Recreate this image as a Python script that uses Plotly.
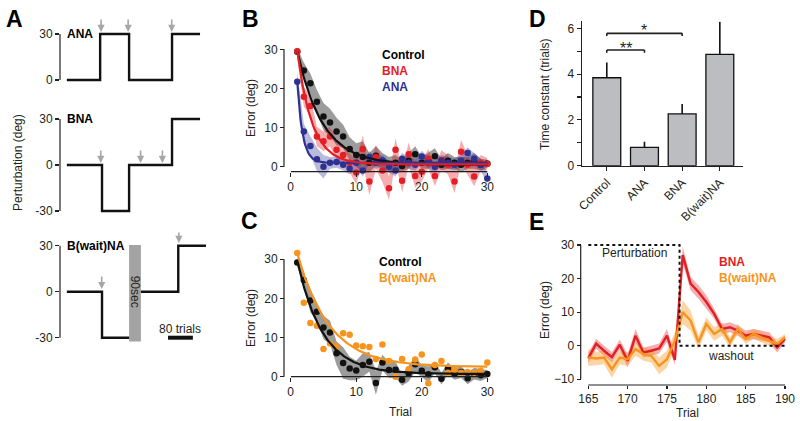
import numpy as np
import plotly.graph_objects as go

W, H = 800, 421
FONT = "Liberation Sans, Arial, sans-serif"
TXT = "#231f20"
RED = "#e31e24"
BLUE = "#2e3192"
ORANGE = "#f7941d"
BLACK = "#111111"
GRAYBAND = "rgba(95,95,95,0.62)"
REDBAND = "rgba(227,30,36,0.36)"
BLUEBAND = "rgba(46,49,146,0.33)"
ORANGEBAND = "rgba(247,148,29,0.40)"

# ---------------- Panel A: perturbation schedules (trials, deg) ----------------
ana_x = [0, 107, 200, 338, 428]
ana_y = [0, 30, 0, 30, 30]
bna_x = [0, 113, 200, 338, 428]
bna_y = [0, -30, 0, 30, 30]
bw_x1 = [0, 113, 200]
bw_y1 = [0, -30, -30]
bw_x2 = [238, 358, 447]
bw_y2 = [0, 30, 30]
wait_x = [200, 238]
wait_y = [-32.5, 30.5]
ana_arrows = [110, 197, 337]
bna_arrows = [109, 237, 307]
bw_arrow_x = [112, 360]
bw_arrow_y = [1.7, 31.8]
scale_x = [325, 405]

# ---------------- Panel B / C: error vs trial ----------------
trials = list(range(1, 31))
b_ctrl = [29.4, 24.6, 21.3, 16.6, 12.8, 11.3, 9.0, 7.7, 4.5, 3.0, 2.5, 1.0, 2.8, 1.5, 0.5,
          1.0, 0.2, 1.5, 3.2, 1.0, 1.5, 2.7, 0.5, 1.5, 1.0, 0.5, 1.0, 1.5, 0.5, 0.8]
b_ctrl_se = [1, 2, 2.5, 3, 3.5, 3.5, 3.5, 3, 3, 3, 4, 2.5, 2.5, 2, 2,
             2, 1.5, 2, 2, 1.5, 2, 2, 1.5, 2, 1.5, 2, 1.5, 2, 1.5, 1]
b_bna = [29.5, 17.9, 15.5, 7.7, 6.5, 7.7, 4.3, 3.0, 1.0, -1.5, 4.5, -3.8, 2.5, -1.0, -5.5,
         4.3, -3.6, 3.2, -2.4, -1.3, 2.0, -2.4, 1.7, 0.5, -3.8, 3.8, 0.5, -2.5, 1.0, 0.7]
b_bna_se = [1.5, 2.5, 2.5, 2.5, 2.5, 2.5, 2.5, 2.5, 2.5, 3, 3.5, 3.5, 3, 3, 3,
            3, 3, 3, 3, 2.5, 2.5, 2.5, 2.5, 2.5, 3, 3, 2.5, 2.5, 2, 1.5]
b_ana = [21.7, 9.0, 5.3, 1.9, 0.0, 1.0, 1.2, 0.5, -0.5, 1.0, -1.0, 2.5, 1.0, 1.5, 0.0,
         -1.0, 2.0, 1.0, 0.5, 2.6, 1.0, 0.0, 1.5, 1.0, 0.5, 1.5, 3.5, 2.0, 0.5, -3.0]
b_ana_se = [2.5, 2, 2.5, 3, 3, 1.5, 1.5, 1.5, 1.5, 1.5, 1.5, 1.5, 1.5, 1.5, 1.5,
            1.5, 1.5, 1.5, 1.5, 1.5, 1.5, 1.5, 1.5, 1.5, 1.5, 1.5, 1.5, 1.5, 1.5, 1.5]
c_ctrl = [29.2, 24.7, 19.5, 16.6, 12.6, 11.3, 6.0, 3.5, 2.1, 1.6, 3.0, 3.8, -1.6, 3.6, 1.7,
          1.8, -0.8, 0.8, 3.2, 1.5, 0.6, 2.4, -0.5, 2.1, 0.7, 1.2, -0.4, 0.8, 0.4, 0.7]
c_ctrl_se = [1, 2, 3, 2.5, 3, 3, 3, 4, 3, 2.5, 3, 2.5, 3, 2, 2,
             2, 1.5, 2, 2, 1.5, 2, 1.5, 1.5, 1.5, 1.5, 1.5, 1.5, 1.5, 1.5, 1]
c_bwait = [31.6, 18.9, 13.7, 13.0, 7.1, 8.5, 7.7, 11.1, 10.7, 8.0, 7.8, 7.6, 4.5, 8.2, 4.0,
           0.0, 4.5, 1.9, 4.4, 5.7, -1.7, 3.0, 4.0, 1.0, 1.7, 1.0, 1.2, 1.0, 1.5, 3.6]

# ---------------- Panel D: time constants ----------------
groups = ["Control", "ANA", "BNA", "B(wait)NA"]
tau = [3.84, 0.80, 2.26, 4.86]
tau_err = [0.67, 0.25, 0.43, 1.43]
# exponential-fit amplitude / offset for each group (tau from panel D)
fit_amp = [29.0, 20.7, 29.0, 29.0]
fit_off = [0.5, 1.0, 0.6, 2.5]

# ---------------- Panel E: transition trials ----------------
e_trials = list(range(165, 191))
e_bna = [-3.7, 0.6, -1.5, -3.4, 0.3, -4.5, 3.0, -2.0, -1.5, -0.8, 3.0, -4.2, 27.0,
         18.5, 16.0, 13.0, 9.5, 5.0, 5.5, 4.5, 3.0, 3.5, 3.0, 2.5, -0.5, 2.0]
e_bna_se = [1.5, 1.5, 1.5, 1.5, 1.5, 2, 2, 1.5, 1.5, 1.5, 2, 1.5, 2.5,
            2, 2, 2, 1.5, 1.5, 1.5, 1.5, 1.5, 1.5, 1.5, 1.5, 1.5, 1]
e_bwait = [-3.5, -3.8, -3.5, -7.0, -3.5, -4.0, -1.0, -2.5, -3.0, -6.0, -4.0, 1.5, 10.0,
           7.5, 1.0, 6.5, 3.5, 5.0, 1.0, 5.0, 2.0, 3.5, 2.5, 1.5, 0.5, 2.5]
e_bwait_se = [2.5, 2, 2, 2.5, 2, 2, 2, 2, 2, 2.5, 2.5, 2.5, 3.5,
              3, 2, 2, 2, 2, 1.5, 1.5, 1.5, 1.5, 1.5, 1.5, 1.5, 1]
pert_x = [165, 176.6, 176.6, 190]
pert_y = [30, 30, 0, 0]


def X(p):
    return p / W


def Y(p):
    return 1 - p / H


def dom(v_a, p_a, v_b, p_b, r0, r1, vertical):
    k = (p_b - p_a) / (v_b - v_a)
    q0 = p_a + (r0 - v_a) * k
    q1 = p_a + (r1 - v_a) * k
    if vertical:
        return sorted([Y(q0), Y(q1)])
    return sorted([X(q0), X(q1)])


fig = go.Figure()


def band(xa, ya, xs, ys, se, color):
    up = [v + s for v, s in zip(ys, se)]
    lo = [v - s for v, s in zip(ys, se)]
    fig.add_trace(go.Scatter(x=list(xs) + list(xs)[::-1], y=up + lo[::-1], fill="toself",
                             fillcolor=color, line=dict(width=0), mode="lines",
                             hoverinfo="skip", xaxis=xa, yaxis=ya))


def pts(xa, ya, xs, ys, color):
    fig.add_trace(go.Scatter(x=xs, y=ys, mode="markers", marker=dict(size=6.5, color=color),
                             cliponaxis=False, xaxis=xa, yaxis=ya))


def fit(xa, ya, i, color, off=None):
    t = np.linspace(1, 30, 240)
    o = fit_off[i] if off is None else off
    yv = fit_amp[i] * np.exp(-(t - 1) / tau[i]) + o
    fig.add_trace(go.Scatter(x=t, y=yv, mode="lines", line=dict(color=color, width=2.2),
                             xaxis=xa, yaxis=ya))


# ---- Panel A traces ----
fig.add_trace(go.Scatter(x=ana_x, y=ana_y, mode="lines", line=dict(color=BLACK, width=2.4, shape="hv"),
                         xaxis="x", yaxis="y"))
fig.add_trace(go.Scatter(x=bna_x, y=bna_y, mode="lines", line=dict(color=BLACK, width=2.4, shape="hv"),
                         xaxis="x2", yaxis="y2"))
fig.add_trace(go.Scatter(x=bw_x1, y=bw_y1, mode="lines", line=dict(color=BLACK, width=2.4, shape="hv"),
                         xaxis="x3", yaxis="y3"))
fig.add_trace(go.Scatter(x=bw_x2, y=bw_y2, mode="lines", line=dict(color=BLACK, width=2.4, shape="hv"),
                         xaxis="x3", yaxis="y3"))
fig.add_trace(go.Scatter(x=scale_x, y=[-30, -30], mode="lines", line=dict(color=BLACK, width=4),
                         xaxis="x3", yaxis="y3"))

# ---- Panel B traces ----
band("x4", "y4", trials, b_ctrl, b_ctrl_se, GRAYBAND)
band("x4", "y4", trials, b_bna, b_bna_se, REDBAND)
band("x4", "y4", trials, b_ana, b_ana_se, BLUEBAND)
pts("x4", "y4", trials, b_ctrl, BLACK)
pts("x4", "y4", trials, b_bna, RED)
pts("x4", "y4", trials, b_ana, BLUE)
fit("x4", "y4", 0, BLACK)
fit("x4", "y4", 1, BLUE)
fit("x4", "y4", 2, RED)

# ---- Panel C traces ----
band("x5", "y5", trials, c_ctrl, c_ctrl_se, GRAYBAND)
pts("x5", "y5", trials, c_ctrl, BLACK)
pts("x5", "y5", trials, c_bwait, ORANGE)
fit("x5", "y5", 0, BLACK, off=0.7)
fit("x5", "y5", 3, ORANGE)

# ---- Panel D traces ----
fig.add_trace(go.Bar(x=groups, y=tau, width=0.74,
                     marker=dict(color="#bcbdc0", line=dict(color=BLACK, width=1.3)),
                     error_y=dict(type="data", symmetric=False, array=tau_err, arrayminus=[0] * 4,
                                  color=BLACK, thickness=1.6, width=0),
                     xaxis="x6", yaxis="y6"))

# ---- Panel E traces ----
band("x7", "y7", e_trials, e_bna, e_bna_se, REDBAND)
band("x7", "y7", e_trials, e_bwait, e_bwait_se, ORANGEBAND)
fig.add_trace(go.Scatter(x=e_trials, y=e_bna, mode="lines", line=dict(color=RED, width=2.4),
                         xaxis="x7", yaxis="y7"))
fig.add_trace(go.Scatter(x=e_trials, y=e_bwait, mode="lines", line=dict(color=ORANGE, width=2.4),
                         xaxis="x7", yaxis="y7"))
fig.add_trace(go.Scatter(x=pert_x, y=pert_y, mode="lines", line=dict(color=BLACK, width=2, dash="dot"),
                         xaxis="x7", yaxis="y7"))

# ---------------- axes ----------------
tickfont = dict(family=FONT, size=12, color=TXT)
base = dict(showgrid=False, zeroline=False, showline=False, ticks="outside", ticklen=4,
            tickwidth=1.1, tickcolor=TXT, tickfont=tickfont, automargin=False, fixedrange=True)

xA = dom(0, 66.85, 100, 66.85 + 31.12, -22, 460, False)
lay = {}
for i, (ax, p30, p0) in enumerate([("", 34, 80), ("2", 119, 165), ("3", 245.7, 291.7)]):
    lay["xaxis" + ax] = dict(domain=xA, range=[-22, 460], visible=False, fixedrange=True)
    tv = [0, 30] if i == 0 else [-30, 0, 30]
    tt = ["0", "30"] if i == 0 else ["-30", "0", "30"]
    lay["yaxis" + ax] = dict(base, domain=dom(0, p0, 30, p30, -6 if i == 0 else -36, 36, True),
                             range=[-6 if i == 0 else -36, 36], anchor="x" + ax,
                             tickmode="array", tickvals=tv, ticktext=tt)

# B
lay["xaxis4"] = dict(base, domain=dom(0, 290.7, 30, 487.3, 0, 31, False), range=[0, 31],
                     anchor="free", position=Y(171.7), tickmode="array", tickvals=[0, 10, 20, 30])
lay["yaxis4"] = dict(base, domain=dom(0, 166.7, 30, 49.3, -9, 33, True), range=[-9, 33],
                     anchor="free", position=X(284), tickmode="array", tickvals=[0, 10, 20, 30])
# C
lay["xaxis5"] = dict(base, domain=dom(0, 290.7, 30, 487.3, 0, 31, False), range=[0, 31],
                     anchor="free", position=Y(376.7), tickmode="array", tickvals=[0, 10, 20, 30])
lay["yaxis5"] = dict(base, domain=dom(0, 376.7, 30, 259.3, -6, 34, True), range=[-6, 34],
                     anchor="free", position=X(284), tickmode="array", tickvals=[0, 10, 20, 30])
# D
lay["xaxis6"] = dict(base, domain=[X(581.7), X(743)], range=[-0.666, 3.615], anchor="y6",
                     showline=True, linecolor=TXT, linewidth=1.2, tickangle=-45,
                     categoryorder="array", categoryarray=groups)
lay["yaxis6"] = dict(base, domain=[Y(165.7), Y(165.7 - 6.3 * 22.9)], range=[0, 6.3], anchor="x6",
                     showline=True, linecolor=TXT, linewidth=1.2, tickmode="linear", tick0=0, dtick=2,
                     minor=dict(dtick=1, ticks="outside", ticklen=4, tickcolor=TXT, tickwidth=1.1))
# E
E_XAX = 385.0
lay["xaxis7"] = dict(base, domain=dom(165, 588.3, 190, 785, 164.5, 190.5, False), range=[164.5, 190.5],
                     anchor="free", position=Y(E_XAX), tickmode="array", ticklen=3,
                     tickvals=[165, 170, 175, 180, 185, 190])
lay["yaxis7"] = dict(base, domain=dom(-10, 379.3, 30, 245, -12, 32, True), range=[-12, 32],
                     anchor="free", position=X(580.7), tickmode="array", tickvals=[-10, 0, 10, 20, 30])

# ---------------- shapes ----------------
LW = 1.2
shapes = []
for ax, lo in [("y", 0), ("y2", -30), ("y3", -30)]:
    shapes.append(dict(type="line", xref="paper", yref=ax, x0=X(60), x1=X(60), y0=lo, y1=30,
                       line=dict(color=TXT, width=LW)))
shapes.append(dict(type="rect", xref="x3", yref="y3", x0=wait_x[0], x1=wait_x[1], y0=wait_y[0], y1=wait_y[1],
                   fillcolor="#a3a3a3", line=dict(width=0), layer="below"))
for xa, ya, xpos, ypos, xr, yr in [("x4", "y4", 284, 171.7, (0, 30), (0, 30)),
                                   ("x5", "y5", 284, 376.7, (0, 30), (0, 30)),
                                   ("x7", "y7", 580.7, E_XAX, (165, 190), (-10, 30))]:
    shapes.append(dict(type="line", xref="paper", yref=ya, x0=X(xpos), x1=X(xpos), y0=yr[0], y1=yr[1],
                       line=dict(color=TXT, width=LW)))
    shapes.append(dict(type="line", xref=xa, yref="paper", x0=xr[0], x1=xr[1], y0=Y(ypos), y1=Y(ypos),
                       line=dict(color=TXT, width=LW)))
# significance brackets
for (a, b, yb) in [(0, 1, 5.05), (0, 2, 5.78)]:
    for seg in [(a, yb - 0.12, a, yb), (a, yb, b, yb), (b, yb, b, yb - 0.12)]:
        shapes.append(dict(type="line", xref="x6", yref="y6", x0=seg[0], y0=seg[1], x1=seg[2], y1=seg[3],
                           line=dict(color=TXT, width=1.6)))

# ---------------- annotations ----------------
ann = []


def txt(x, y, s, xref="paper", yref="paper", size=12, color=TXT, bold=False, xanchor="center",
        yanchor="middle", angle=0):
    ann.append(dict(x=x, y=y, xref=xref, yref=yref, text=s, showarrow=False, xanchor=xanchor,
                    yanchor=yanchor, textangle=angle,
                    font=dict(family=FONT, size=size, color=color, weight="bold" if bold else "normal")))


for L, px_, py_ in [("A", 14, 19), ("B", 250, 19), ("C", 249, 221), ("D", 537, 19), ("E", 536, 222)]:
    txt(X(px_), Y(py_), L, size=23, bold=True, color="#000")

txt(X(18), Y(163), "Perturbation (deg)", angle=-90)
txt(-6, 30, "ANA", "x", "y", bold=True, xanchor="left", color="#000")
txt(-6, 30, "BNA", "x2", "y2", bold=True, xanchor="left", color="#000")
txt(-6, 30, "B(wait)NA", "x3", "y3", bold=True, xanchor="left", color="#000")
txt(219, 0, "90sec", "x3", "y3", size=12, angle=90)
txt(364, -24.3, "80 trials", "x3", "y3", size=12)

ARR = "#a6a6a6"


def arrow(xa, ya, x, y, ay=-14):
    ann.append(dict(x=x, y=y, xref=xa, yref=ya, ax=0, ay=ay, text="", showarrow=True,
                    arrowhead=2, arrowsize=0.9, arrowwidth=1.6, arrowcolor=ARR))


for xv in ana_arrows:
    arrow("x", "y", xv, 31.3)
for xv in bna_arrows:
    arrow("x2", "y2", xv, 1.3)
arrow("x3", "y3", bw_arrow_x[0], bw_arrow_y[0])
arrow("x3", "y3", bw_arrow_x[1], bw_arrow_y[1], ay=-12)

# B
txt(X(251), Y(108), "Error (deg)", angle=-90)
txt(13.6, 28.5, "Control", "x4", "y4", bold=True, xanchor="left", color="#000")
txt(13.6, 24.5, "BNA", "x4", "y4", bold=True, xanchor="left", color=RED)
txt(13.6, 20.3, "ANA", "x4", "y4", bold=True, xanchor="left", color=BLUE)
# C
txt(X(251), Y(318), "Error (deg)", angle=-90)
txt(13.2, 29.2, "Control", "x5", "y5", bold=True, xanchor="left", color="#000")
txt(13.2, 25.1, "B(wait)NA", "x5", "y5", bold=True, xanchor="left", color=ORANGE)
txt(X(400), Y(412), "Trial")
# D
txt(X(545), Y(94), "Time constant (trials)", angle=-90)
txt(0.5, 5.12, "**", "x6", "y6", size=16)
txt(1.0, 5.92, "*", "x6", "y6", size=16)
# E
txt(X(545), Y(310), "Error (deg)", angle=-90)
txt(X(687), Y(413), "Trial")
txt(181.3, 25.0, "BNA", "x7", "y7", bold=True, xanchor="left", color=RED)
txt(181.3, 20.3, "B(wait)NA", "x7", "y7", bold=True, xanchor="left", color=ORANGE)
txt(166.5, 27.5, "Perturbation", "x7", "y7", xanchor="left")
txt(180.0, -3.0, "washout", "x7", "y7", xanchor="left")

fig.update_layout(width=W, height=H, margin=dict(l=0, r=0, t=0, b=0), template="none",
                  paper_bgcolor="white", plot_bgcolor="rgba(0,0,0,0)", showlegend=False,
                  shapes=shapes, annotations=ann, font=dict(family=FONT, size=12, color=TXT), **lay)

fig.write_html("out.html", config={"displayModeBar": False, "staticPlot": True},
               post_script="document.body.style.margin='0';document.body.style.overflow='hidden';")
